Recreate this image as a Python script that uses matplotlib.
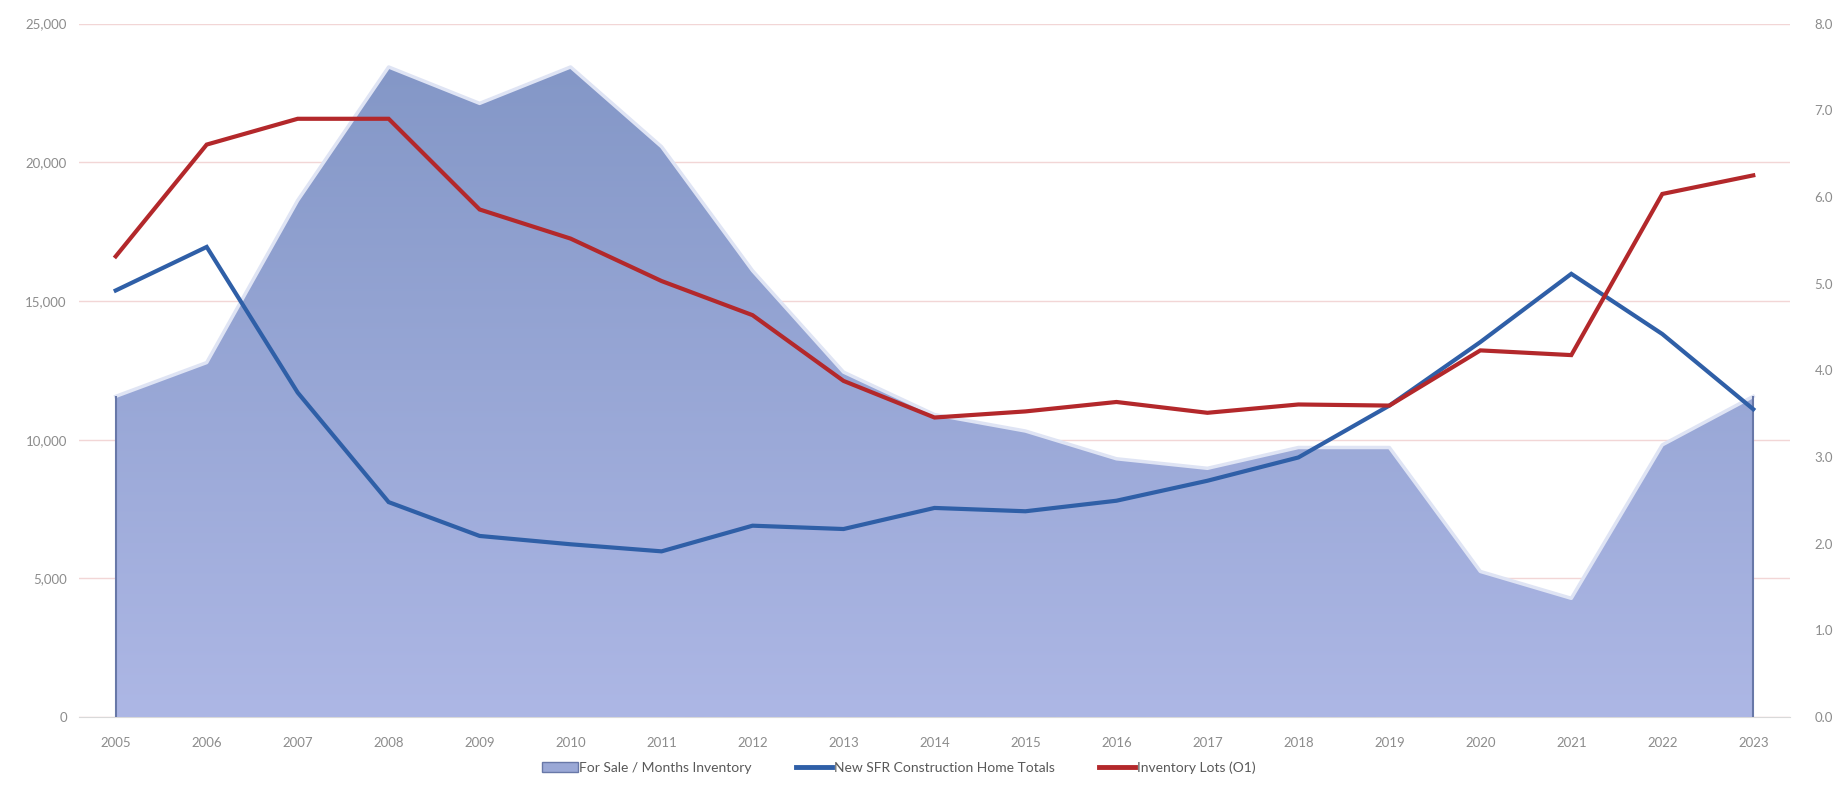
import numpy as np
import matplotlib
matplotlib.use("Agg")
import matplotlib.pyplot as plt
from matplotlib.patches import Patch
from matplotlib.lines import Line2D
from matplotlib.ticker import FuncFormatter

plt.rcParams['font.family'] = ['Lato', 'DejaVu Sans']

years = [str(y) for y in range(2005, 2024)]

# months of inventory (right axis)
months_inventory = [3.70, 4.09, 5.96, 7.50, 7.08, 7.50, 6.58, 5.15, 3.98, 3.49,
                    3.30, 2.98, 2.87, 3.11, 3.11, 1.68, 1.37, 3.14, 3.70]

# new single family construction totals (left axis)
new_sfr = [15380, 16950, 11700, 7750, 6530, 6230, 5975, 6900, 6780, 7540,
           7420, 7800, 8520, 9360, 11230, 13520, 15980, 13810, 11100]

# inventory lots (left axis)
inventory_lots = [16610, 20640, 21570, 21570, 18300, 17250, 15720, 14490, 12120, 10800,
                  11020, 11360, 10970, 11270, 11230, 13220, 13050, 18860, 19530]

x = np.arange(len(years))
grey = '#8c8c8c'

fig = plt.figure(figsize=(18.45, 7.88), dpi=100)
ax = fig.add_axes([0.043, 0.090, 0.927, 0.880])
ax2 = ax.twinx()
ax3 = ax.twinx()

# gridlines + left axis on the bottom layer
ax.set_ylim(0, 25000)
ax.set_yticks(np.arange(0, 25001, 5000))
ax.yaxis.set_major_formatter(FuncFormatter(lambda v, p: f"{int(v):,}"))
ax.grid(axis='y', color='#f2d6d6', linewidth=1)
ax.set_xlim(-0.4, len(years) - 0.6)
ax.set_xticks(x)
ax.set_xticklabels(years)

# area with a soft vertical gradient
ax2.set_ylim(0, 8)
ax2.set_yticks(np.arange(0, 8.01, 1))
ax2.yaxis.set_major_formatter(FuncFormatter(lambda v, p: f"{v:.1f}"))
poly = ax2.fill_between(x, 0, months_inventory, facecolor='none', edgecolor='none')
grad = np.linspace(0, 1, 256).reshape(-1, 1)
cmap = matplotlib.colors.LinearSegmentedColormap.from_list('ar', ['#adb7e5', '#8195c5'])
img = ax2.imshow(grad, extent=[x[0], x[-1], 0, 8], origin='lower', aspect='auto',
                 cmap=cmap, zorder=1)
img.set_clip_path(poly.get_paths()[0], transform=ax2.transData)
ax2.plot(x, months_inventory, color='#dfe4f4', linewidth=2.5, zorder=2)
ax2.vlines([x[0], x[-1]], 0, [months_inventory[0], months_inventory[-1]],
           color='#6878a8', linewidth=1.5, zorder=2)

# lines on top layer
ax3.set_ylim(0, 25000)
ax3.set_yticks([])
ax3.plot(x, new_sfr, color='#2f5fa7', linewidth=3, solid_joinstyle='miter')
ax3.plot(x, inventory_lots, color='#b3282b', linewidth=3, solid_joinstyle='miter')

for a in (ax, ax2, ax3):
    for s in a.spines.values():
        s.set_visible(False)
    a.tick_params(length=0, colors=grey, labelsize=9.5)
ax.spines['bottom'].set_visible(True)
ax.spines['bottom'].set_color('#d9d9d9')
ax.tick_params(axis='x', pad=14)
ax.tick_params(axis='y', pad=9)
ax2.tick_params(axis='y', pad=18)

handles = [Patch(facecolor='#9aa8d6', edgecolor='#6878a8', label='For Sale / Months Inventory'),
           Line2D([], [], color='#2f5fa7', linewidth=3.5, label='New SFR Construction Home Totals'),
           Line2D([], [], color='#b3282b', linewidth=3.5, label='Inventory Lots (O1)')]
fig.legend(handles=handles, loc='center', bbox_to_anchor=(0.487, 0.026), ncol=3,
           frameon=False, fontsize=10, handlelength=2.6, handletextpad=0.1,
           columnspacing=3.2, labelcolor='#595959')

fig.savefig('out.png', dpi=100)
